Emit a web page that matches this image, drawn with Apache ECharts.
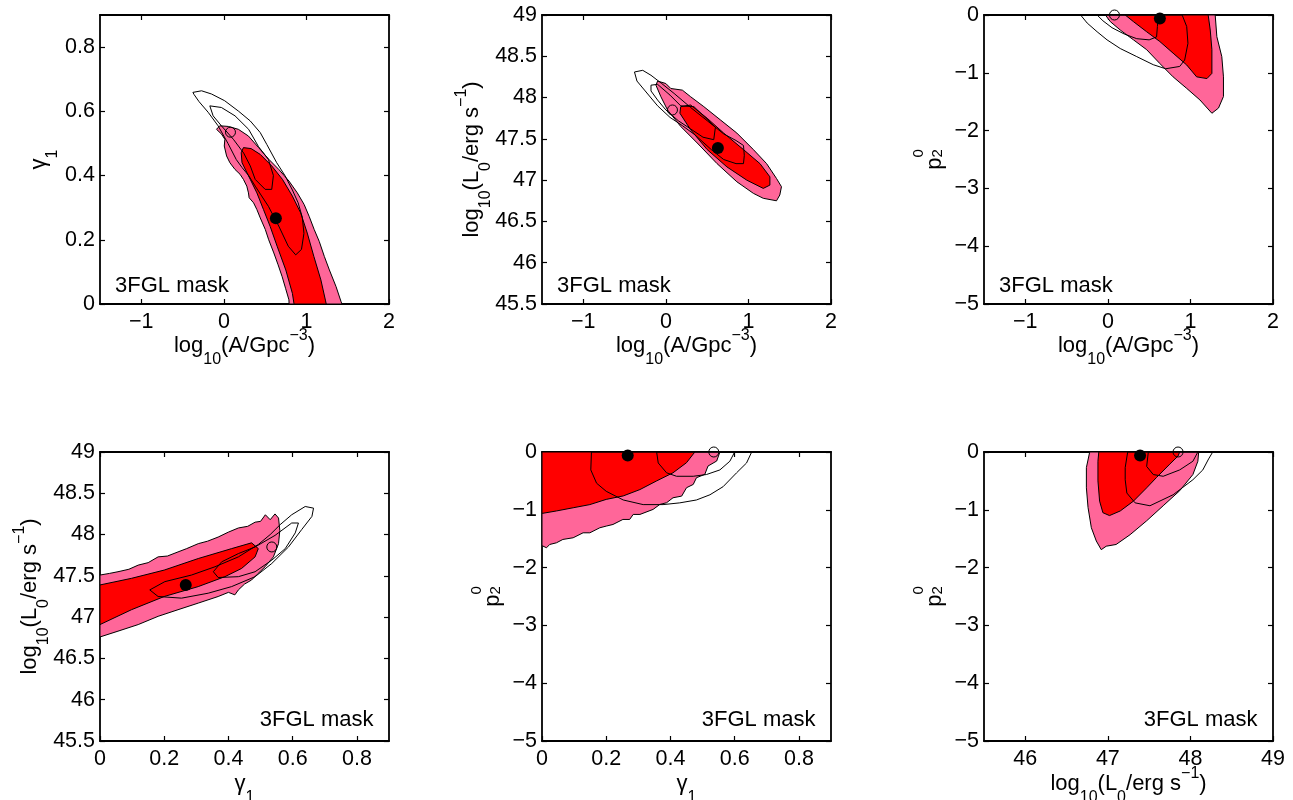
<!DOCTYPE html>
<html>
<head>
<meta charset="utf-8">
<title>Posterior contours, 3FGL mask</title>
<script src="https://cdn.jsdelivr.net/npm/echarts@6.0.0/dist/echarts.min.js"></script>
<style>
  html, body { margin: 0; padding: 0; background: #ffffff; }
  #chart { width: 1293px; height: 800px; }
</style>
</head>
<body>
<div id="chart"></div>
<script>
// Parameter order: log10 A, gamma_1, log10 L0, p_2^0
const BEST_FIT = [0.63, 0.267, 47.39, -0.06];
const ALT_FIT  = [0.08, 0.535, 47.85, 0.0];

// Tick values
const LOGA_TICKS   = [-1, 0, 1, 2];
const GAMMA_TICKS  = [0, 0.2, 0.4, 0.6, 0.8];
const LOGL_TICKS_Y = [45.5, 46, 46.5, 47, 47.5, 48, 48.5, 49];
const LOGL_TICKS_X = [46, 47, 48, 49];
const P2_TICKS     = [-5, -4, -3, -2, -1, 0];

// --- log10 A vs gamma_1 ---
const A_G_OUTER = [[-0.089,0.544],[-0.049,0.555],[0.054,0.553],[0.176,0.544],[0.298,0.523],[0.421,0.487],[0.543,0.451],[0.666,0.419],[0.788,0.383],[0.89,0.346],[0.972,0.31],[1.033,0.273],[1.094,0.232],[1.155,0.195],[1.217,0.148],[1.278,0.106],[1.359,0.054],[1.42,0.007],[1.43,0],[0.79,0],[0.788,0.013],[0.747,0.049],[0.706,0.085],[0.657,0.122],[0.605,0.159],[0.543,0.2],[0.502,0.232],[0.441,0.268],[0.4,0.294],[0.36,0.315],[0.306,0.331],[0.298,0.346],[0.278,0.367],[0.237,0.388],[0.196,0.404],[0.135,0.419],[0.073,0.44],[0.033,0.461],[0.005,0.492],[0.012,0.513],[-0.028,0.529]];
const A_G_INNER = [[0.21,0.471],[0.237,0.487],[0.33,0.484],[0.44,0.466],[0.58,0.43],[0.71,0.388],[0.83,0.336],[0.93,0.284],[1.01,0.221],[1.09,0.148],[1.175,0.075],[1.23,0.012],[1.24,0],[0.85,0],[0.83,0.033],[0.75,0.106],[0.645,0.18],[0.56,0.242],[0.48,0.294],[0.4,0.346],[0.32,0.388],[0.22,0.44]];
const A_G_ALT_OUTER = [[-0.375,0.659],[-0.27,0.664],[-0.15,0.654],[0.01,0.633],[0.18,0.6],[0.32,0.57],[0.44,0.534],[0.52,0.497],[0.64,0.44],[0.74,0.4],[0.83,0.355],[0.9,0.315],[0.95,0.27],[0.97,0.22],[0.94,0.17],[0.87,0.153],[0.78,0.18],[0.67,0.24],[0.54,0.304],[0.38,0.367],[0.3,0.4],[0.22,0.425],[0.15,0.45],[0.05,0.5],[-0.07,0.555],[-0.19,0.597],[-0.3,0.63],[-0.36,0.652]];
const A_G_ALT_INNER = [[-0.17,0.617],[-0.03,0.612],[0.135,0.586],[0.3,0.544],[0.42,0.49],[0.54,0.45],[0.6,0.4],[0.58,0.357],[0.5,0.357],[0.38,0.388],[0.32,0.43],[0.24,0.47],[0.115,0.513],[-0.03,0.555],[-0.13,0.586]];

// --- log10 A vs log10 L0 ---
const A_L_OUTER = [[-0.1,48.2],[0,48.17],[0.06,48.11],[0.2,48.09],[0.3,48.01],[0.46,47.89],[0.66,47.73],[0.86,47.57],[1.06,47.37],[1.22,47.2],[1.34,47.02],[1.4,46.92],[1.38,46.82],[1.34,46.75],[1.18,46.78],[1.06,46.84],[0.86,46.98],[0.62,47.2],[0.38,47.45],[0.18,47.65],[0.02,47.85],[-0.06,48.01],[-0.12,48.15]];
const A_L_INNER = [[0.18,47.89],[0.3,47.91],[0.5,47.75],[0.7,47.57],[0.94,47.37],[1.14,47.2],[1.26,47.04],[1.26,46.94],[1.18,46.9],[0.98,47.0],[0.74,47.16],[0.5,47.37],[0.3,47.61],[0.17,47.81]];
const A_L_ALT_OUTER = [[-0.38,48.31],[-0.28,48.33],[-0.18,48.27],[-0.05,48.17],[0.1,48.05],[0.3,47.88],[0.5,47.72],[0.7,47.56],[0.85,47.48],[0.94,47.42],[0.95,47.3],[0.94,47.2],[0.85,47.2],[0.7,47.25],[0.55,47.37],[0.35,47.55],[0.2,47.66],[0.05,47.76],[-0.1,47.9],[-0.25,48.08],[-0.35,48.2]];
const A_L_ALT_INNER = [[-0.18,48.15],[-0.1,48.16],[0.05,48.03],[0.18,47.9],[0.34,47.89],[0.6,47.64],[0.58,47.49],[0.45,47.52],[0.3,47.62],[0.15,47.72],[0.0,47.85],[-0.1,47.97],[-0.18,48.08]];

// --- log10 A vs p_2^0 ---
const A_P_OUTER = [[-0.03,0],[0.03,-0.115],[0.15,-0.26],[0.31,-0.43],[0.47,-0.6],[0.63,-0.84],[0.79,-1.07],[0.955,-1.27],[1.115,-1.47],[1.26,-1.7],[1.34,-1.61],[1.4,-1.41],[1.4,-1.07],[1.38,-0.72],[1.32,-0.375],[1.3,0]];
const A_P_INNER = [[0.21,0],[0.31,-0.115],[0.47,-0.29],[0.63,-0.46],[0.79,-0.66],[0.955,-0.865],[1.075,-1.07],[1.2,-1.1],[1.26,-1.01],[1.26,-0.6],[1.24,-0.26],[1.215,0]];
const A_P_ALT_OUTER = [[-0.33,0],[-0.25,-0.14],[-0.13,-0.29],[-0.01,-0.43],[0.15,-0.58],[0.35,-0.72],[0.55,-0.86],[0.7,-0.93],[0.87,-0.89],[0.93,-0.78],[0.97,-0.49],[0.955,-0.2],[0.9,0]];
const A_P_ALT_INNER = [[-0.13,0],[-0.06,-0.1],[0.05,-0.22],[0.2,-0.33],[0.35,-0.41],[0.5,-0.43],[0.59,-0.38],[0.6,-0.2],[0.61,0]];

// --- gamma_1 vs log10 L0 ---
const G_L_OUTER = [[0,47.51],[0.03,47.53],[0.056,47.55],[0.09,47.58],[0.119,47.63],[0.15,47.66],[0.181,47.73],[0.21,47.74],[0.243,47.79],[0.27,47.83],[0.306,47.89],[0.335,47.92],[0.368,47.97],[0.4,48.03],[0.431,48.08],[0.46,48.1],[0.483,48.15],[0.5,48.16],[0.515,48.24],[0.53,48.18],[0.545,48.25],[0.556,48.2],[0.56,48.05],[0.556,47.89],[0.54,47.73],[0.514,47.61],[0.49,47.52],[0.472,47.45],[0.45,47.4],[0.431,47.33],[0.42,47.27],[0.4,47.3],[0.368,47.25],[0.306,47.17],[0.243,47.09],[0.181,47.01],[0.119,46.91],[0.056,46.83],[0,46.76]];
const G_L_INNER = [[0,47.39],[0.098,47.47],[0.2,47.57],[0.306,47.71],[0.41,47.83],[0.472,47.9],[0.493,47.83],[0.483,47.73],[0.441,47.59],[0.389,47.49],[0.306,47.37],[0.2,47.25],[0.098,47.09],[0,46.91]];
const G_L_ALT_OUTER = [[0.155,47.33],[0.202,47.43],[0.285,47.51],[0.358,47.61],[0.431,47.73],[0.493,47.88],[0.53,48.0],[0.561,48.12],[0.597,48.24],[0.639,48.34],[0.665,48.32],[0.66,48.22],[0.628,48.06],[0.587,47.85],[0.535,47.65],[0.483,47.49],[0.41,47.37],[0.337,47.29],[0.254,47.23],[0.181,47.25]];
const G_L_ALT_INNER = [[0.353,47.55],[0.379,47.67],[0.431,47.77],[0.483,47.85],[0.545,47.99],[0.597,48.14],[0.618,48.14],[0.608,48.02],[0.577,47.83],[0.535,47.69],[0.483,47.55],[0.431,47.49],[0.368,47.48]];

// --- gamma_1 vs p_2^0 ---
const G_P_OUTER = [[0,0],[0.554,0],[0.544,-0.156],[0.517,-0.243],[0.507,-0.387],[0.481,-0.445],[0.471,-0.561],[0.45,-0.618],[0.435,-0.763],[0.408,-0.792],[0.388,-0.878],[0.367,-0.907],[0.346,-0.993],[0.305,-1.08],[0.284,-1.08],[0.273,-1.167],[0.252,-1.167],[0.221,-1.254],[0.2,-1.282],[0.18,-1.311],[0.149,-1.398],[0.128,-1.398],[0.097,-1.484],[0.065,-1.513],[0.045,-1.571],[0.024,-1.6],[0.014,-1.657],[0,-1.62]];
const G_P_INNER = [[0,0],[0.476,0],[0.45,-0.185],[0.408,-0.36],[0.357,-0.5],[0.305,-0.65],[0.253,-0.76],[0.2,-0.82],[0.149,-0.91],[0.097,-0.965],[0.045,-1.02],[0.003,-1.06],[0,-1.06]];
const G_P_ALT_OUTER = [[0.154,0],[0.152,-0.31],[0.17,-0.54],[0.2,-0.68],[0.253,-0.83],[0.315,-0.91],[0.377,-0.91],[0.429,-0.88],[0.481,-0.83],[0.523,-0.74],[0.564,-0.6],[0.606,-0.36],[0.637,-0.19],[0.653,0]];
const G_P_ALT_INNER = [[0.357,0],[0.362,-0.19],[0.388,-0.36],[0.419,-0.42],[0.471,-0.42],[0.512,-0.39],[0.554,-0.31],[0.585,-0.16],[0.6,0]];

// --- log10 L0 vs p_2^0 ---
const L_P_OUTER = [[46.78,0],[46.74,-0.27],[46.74,-0.62],[46.76,-0.96],[46.8,-1.31],[46.86,-1.54],[46.92,-1.69],[46.98,-1.63],[47.1,-1.6],[47.27,-1.43],[47.47,-1.19],[47.67,-0.93],[47.87,-0.67],[48.03,-0.39],[48.09,-0.16],[48.1,0]];
const L_P_INNER = [[46.89,0],[46.88,-0.16],[46.88,-0.5],[46.9,-0.85],[46.94,-1.05],[47.02,-1.1],[47.15,-1.02],[47.31,-0.85],[47.47,-0.62],[47.59,-0.44],[47.75,-0.21],[47.85,-0.07],[47.87,0]];
const L_P_ALT_OUTER = [[47.24,0],[47.21,-0.27],[47.21,-0.48],[47.23,-0.71],[47.33,-0.88],[47.51,-0.93],[47.79,-0.74],[48.03,-0.48],[48.15,-0.31],[48.22,-0.12],[48.27,0]];
const L_P_ALT_INNER = [[47.49,0],[47.47,-0.25],[47.55,-0.39],[47.67,-0.42],[47.87,-0.31],[48.03,-0.16],[48.09,0]];

const FONT = '"Liberation Sans", Arial, Helvetica, sans-serif';
const FILL_OUTER = '#ff6699';
const FILL_INNER = '#ff0000';
const PANEL_LABEL = '3FGL mask';

const GRID_LEFTS = [100, 542, 984];
const GRID_TOPS = [15, 452];
const GRID_W = 289, GRID_H = 289;
// distance from the left axis line to the baseline of the rotated p_2^0 title
const P2_TITLE_OFFSET = 41.5;

const AXES = {
  logA:  { min: -1.5, max: 2,   name: '{n|log}{b|10}{n|(A/Gpc}{t|\u22123}{n|)}' },
  gamma: { min: 0,    max: 0.9, name: '{n|\u03b3}{b|1}' },
  logL:  { min: 45.5, max: 49,  name: '{n|log}{b|10}{n|(L}{b|0}{n|/erg s}{t|\u22121}{n|)}' },
  p2:    { min: -5,   max: 0,   name: '' }   // drawn as a stacked p_2^0 group below
};

const PANELS = [
  { x: 'logA',  y: 'gamma', xi: 0, yi: 1, xTicks: LOGA_TICKS,   yTicks: GAMMA_TICKS,  fill: [A_G_OUTER, A_G_INNER], alt: [A_G_ALT_OUTER, A_G_ALT_INNER], tag: 'left',  xGap: 20, yGap: 39 },
  { x: 'logA',  y: 'logL',  xi: 0, yi: 2, xTicks: LOGA_TICKS,   yTicks: LOGL_TICKS_Y, fill: [A_L_OUTER, A_L_INNER], alt: [A_L_ALT_OUTER, A_L_ALT_INNER], tag: 'left',  xGap: 20, yGap: 48 },
  { x: 'logA',  y: 'p2',    xi: 0, yi: 3, xTicks: LOGA_TICKS,   yTicks: P2_TICKS,     fill: [A_P_OUTER, A_P_INNER], alt: [A_P_ALT_OUTER, A_P_ALT_INNER], tag: 'left',  xGap: 20, yGap: 27 },
  { x: 'gamma', y: 'logL',  xi: 1, yi: 2, xTicks: GAMMA_TICKS,  yTicks: LOGL_TICKS_Y, fill: [G_L_OUTER, G_L_INNER], alt: [G_L_ALT_OUTER, G_L_ALT_INNER], tag: 'right', xGap: 21, yGap: 48 },
  { x: 'gamma', y: 'p2',    xi: 1, yi: 3, xTicks: GAMMA_TICKS,  yTicks: P2_TICKS,     fill: [G_P_OUTER, G_P_INNER], alt: [G_P_ALT_OUTER, G_P_ALT_INNER], tag: 'right', xGap: 21, yGap: 27 },
  { x: 'logL',  y: 'p2',    xi: 2, yi: 3, xTicks: LOGL_TICKS_X, yTicks: P2_TICKS,     fill: [L_P_OUTER, L_P_INNER], alt: [L_P_ALT_OUTER, L_P_ALT_INNER], tag: 'right', xGap: 21, yGap: 27 }
];

// Rich styles for axis titles: normal text, subscript, superscript
const RICH = {
  n: { fontFamily: FONT, fontSize: 22, lineHeight: 44, color: '#000', align: 'left' },
  b: { fontFamily: FONT, fontSize: 16, lineHeight: 16, height: 16, verticalAlign: 'bottom', color: '#000', align: 'left' },
  t: { fontFamily: FONT, fontSize: 16, lineHeight: 16, height: 24, verticalAlign: 'top', color: '#000', align: 'left' }
};

function tickText(v) {
  return v < 0 ? '\u2212' + String(-v) : String(v);
}

function makeAxis(spec, ticks, gridIndex, position, primary, gap) {
  const vertical = position === 'left' || position === 'right';
  return {
    type: 'value',
    gridIndex: gridIndex,
    position: position,
    min: spec.min,
    max: spec.max,
    silent: true,
    axisLine: { show: true, onZero: false, lineStyle: { color: '#000', width: 1.8 } },
    axisTick: { show: true, inside: true, length: 5, customValues: ticks, lineStyle: { color: '#000', width: 1.2 } },
    axisLabel: {
      show: primary, customValues: ticks, formatter: tickText,
      color: '#000', fontFamily: FONT, fontSize: 21.5, margin: vertical ? 5 : 7
    },
    splitLine: { show: false },
    name: primary ? spec.name : '',
    nameLocation: 'middle',
    nameGap: gap || 0,
    nameRotate: vertical ? 90 : 0,
    nameMoveOverlap: false,
    nameTextStyle: { rich: RICH }
  };
}

// Rotated "p" with subscript 2 and superscript 0 stacked above it
function p2Title(axisX, centerY) {
  const pW = 12.2, sW = 8.3;            // advance widths of "p" (22px) and a 15px digit
  const x0 = -(pW + sW) / 2;
  const txt = function (text, x, baseline, size) {
    return {
      type: 'text', x: x, y: baseline - 0.33 * size,
      style: { text: text, fill: '#000', font: size + 'px ' + FONT, align: 'left', verticalAlign: 'middle' }
    };
  };
  return {
    type: 'group', silent: true, z: 20,
    x: axisX - P2_TITLE_OFFSET, y: centerY, rotation: Math.PI / 2,
    children: [
      txt('p', x0, 0, 22),
      txt('2', x0 + pW, 0, 15),
      txt('0', x0 + pW, -19, 15)
    ]
  };
}

// Filled or outlined closed contour, mapped through the panel's axes
function contourSeries(panelIndex, pts, fill, z) {
  return {
    type: 'custom',
    xAxisIndex: 2 * panelIndex,
    yAxisIndex: 2 * panelIndex,
    data: pts,
    encode: { x: 0, y: 1 },
    z: z,
    silent: true,
    clip: true,
    renderItem: function (params, api) {
      if (params.dataIndex !== 0) return null;
      const points = pts.map(function (p) { return api.coord(p); });
      return {
        type: 'polygon',
        shape: { points: points },
        style: { fill: fill, stroke: '#000', lineWidth: 1, lineJoin: 'round' }
      };
    }
  };
}

const grids = [], xAxes = [], yAxes = [], series = [], graphics = [];

PANELS.forEach(function (p, i) {
  const row = Math.floor(i / 3), col = i % 3;
  const left = GRID_LEFTS[col], top = GRID_TOPS[row];
  grids.push({ left: left, top: top, width: GRID_W, height: GRID_H, containLabel: false, outerBoundsMode: 'none' });

  xAxes.push(makeAxis(AXES[p.x], p.xTicks, i, 'bottom', true, p.xGap));
  xAxes.push(makeAxis(AXES[p.x], p.xTicks, i, 'top', false));
  yAxes.push(makeAxis(AXES[p.y], p.yTicks, i, 'left', true, p.yGap));
  yAxes.push(makeAxis(AXES[p.y], p.yTicks, i, 'right', false));

  series.push(contourSeries(i, p.fill[0], FILL_OUTER, 2));
  series.push(contourSeries(i, p.fill[1], FILL_INNER, 3));
  series.push(contourSeries(i, p.alt[0], 'none', 4));
  series.push(contourSeries(i, p.alt[1], 'none', 4));

  series.push({
    type: 'scatter', xAxisIndex: 2 * i, yAxisIndex: 2 * i, silent: true, clip: false, z: 6,
    data: [[BEST_FIT[p.xi], BEST_FIT[p.yi]]],
    symbol: 'circle', symbolSize: 12,
    itemStyle: { color: '#000', opacity: 1 }
  });
  series.push({
    type: 'scatter', xAxisIndex: 2 * i, yAxisIndex: 2 * i, silent: true, clip: false, z: 6,
    data: [[ALT_FIT[p.xi], ALT_FIT[p.yi]]],
    symbol: 'circle', symbolSize: 10,
    itemStyle: { color: 'rgba(0,0,0,0)', borderColor: '#000', borderWidth: 1, opacity: 1 }
  });

  if (p.y === 'p2') {
    graphics.push(p2Title(left, top + GRID_H / 2));
  }

  const isLeft = p.tag === 'left';
  graphics.push({
    type: 'text',
    silent: true,
    z: 20,
    x: isLeft ? left + 15 : left + GRID_W - 15.5,
    y: top + GRID_H - (isLeft ? 18 : 21),
    style: {
      text: PANEL_LABEL,
      fill: '#000',
      font: '22px ' + FONT,
      align: isLeft ? 'left' : 'right',
      verticalAlign: 'middle'
    }
  });
});

const chart = echarts.init(document.getElementById('chart'), null, { renderer: 'canvas' });
chart.setOption({
  animation: false,
  backgroundColor: '#ffffff',
  textStyle: { fontFamily: FONT, color: '#000' },
  grid: grids,
  xAxis: xAxes,
  yAxis: yAxes,
  series: series,
  graphic: graphics
});
</script>
</body>
</html>
